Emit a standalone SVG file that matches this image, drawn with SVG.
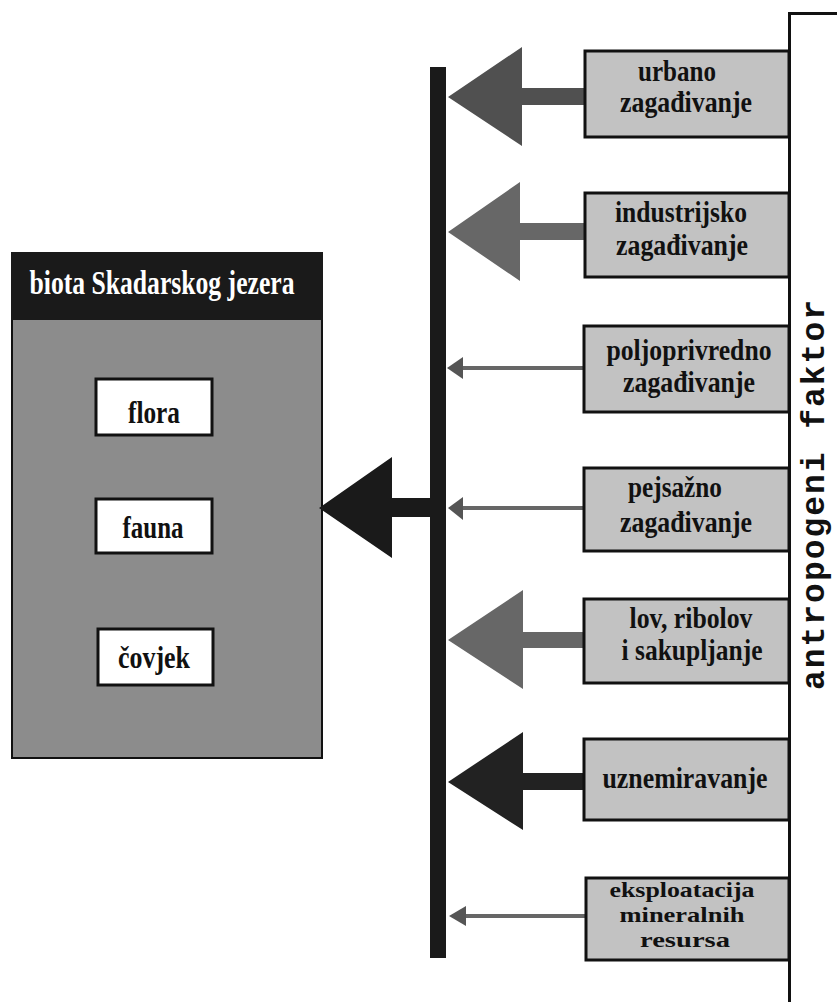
<svg xmlns="http://www.w3.org/2000/svg" width="837" height="1002" viewBox="0 0 837 1002">
<style>
.t{font-family:"Liberation Serif","Times New Roman",serif;font-weight:bold;fill:#111;text-anchor:middle}
.box{fill:#c2c2c2;stroke:#111;stroke-width:3}
.wbox{fill:#fff;stroke:#111;stroke-width:3}
.side{font-family:"Liberation Mono","Courier New",monospace;font-weight:bold;fill:#111;text-anchor:middle}
</style>
<rect width="837" height="1002" fill="#fff"/>
<g id="panel">
<path d="M789.5 1002 V13.5 H837" fill="none" stroke="#111" stroke-width="3"/>
<text class="side" font-size="33" transform="translate(824,495) rotate(-90)" textLength="390" lengthAdjust="spacing">antropogeni faktor</text>
</g>
<g id="biota">
<rect x="12" y="253" width="310" height="505" fill="#8c8c8c" stroke="#111" stroke-width="2"/>
<rect x="11" y="252" width="312" height="68" fill="#1a1a1a"/>
<text x="162" y="294" font-size="33" class="t" style="fill:#fff" textLength="265" lengthAdjust="spacingAndGlyphs">biota Skadarskog jezera</text>
</g>
<g id="flora">
<rect x="96" y="379" width="116" height="56" class="wbox"/>
<text x="154" y="423" font-size="32" class="t" textLength="52" lengthAdjust="spacingAndGlyphs">flora</text>
</g>
<g id="fauna">
<rect x="96" y="499" width="116" height="54" class="wbox"/>
<text x="153" y="538" font-size="32" class="t" textLength="61" lengthAdjust="spacingAndGlyphs">fauna</text>
</g>
<g id="covjek">
<rect x="98" y="629" width="115" height="56" class="wbox"/>
<text x="154" y="668" font-size="32" class="t" textLength="72" lengthAdjust="spacingAndGlyphs">čovjek</text>
</g>
<g id="connectors">
<rect x="430" y="67" width="16" height="891" fill="#1a1a1a"/>
<path d="M319 508 L392 457 L392 498 L430 498 L430 517 L392 517 L392 558 Z" fill="#1a1a1a"/>
<path d="M448 97 L522 47 L522 88 L584 88 L584 105 L522 105 L522 146 Z" fill="#505050"/>
<path d="M448 232 L520 182 L520 223 L584 223 L584 240 L520 240 L520 281 Z" fill="#676767"/>
<rect x="460" y="366" width="124" height="4" fill="#666"/>
<path d="M447 368 L463 357 L463 379 Z" fill="#555"/>
<rect x="460" y="506" width="124" height="4" fill="#666"/>
<path d="M448 508 L463 497 L463 520 Z" fill="#555"/>
<path d="M448 640 L523 590 L523 632 L584 632 L584 648 L523 648 L523 689 Z" fill="#676767"/>
<path d="M448 782 L523 732 L523 773 L584 773 L584 790 L523 790 L523 830 Z" fill="#222"/>
<rect x="462" y="914" width="124" height="4" fill="#666"/>
<path d="M449 916 L466 906 L466 926 Z" fill="#555"/>
</g>
<g id="urbano">
<rect x="585" y="51" width="204" height="86" class="box"/>
<text x="677" y="81" font-size="30" class="t" textLength="78" lengthAdjust="spacingAndGlyphs">urbano</text>
<text x="686" y="112" font-size="30" class="t" textLength="132" lengthAdjust="spacingAndGlyphs">zagađivanje</text>
</g>
<g id="industrijsko">
<rect x="585" y="193" width="204" height="84" class="box"/>
<text x="681" y="222" font-size="30" class="t" textLength="132" lengthAdjust="spacingAndGlyphs">industrijsko</text>
<text x="682" y="255" font-size="30" class="t" textLength="132" lengthAdjust="spacingAndGlyphs">zagađivanje</text>
</g>
<g id="poljoprivredno">
<rect x="584" y="326" width="205" height="86" class="box"/>
<text x="689" y="360" font-size="30" class="t" textLength="165" lengthAdjust="spacingAndGlyphs">poljoprivredno</text>
<text x="689" y="392" font-size="30" class="t" textLength="132" lengthAdjust="spacingAndGlyphs">zagađivanje</text>
</g>
<g id="pejsazno">
<rect x="584" y="468" width="205" height="83" class="box"/>
<text x="675" y="497" font-size="30" class="t" textLength="94" lengthAdjust="spacingAndGlyphs">pejsažno</text>
<text x="686" y="532" font-size="30" class="t" textLength="132" lengthAdjust="spacingAndGlyphs">zagađivanje</text>
</g>
<g id="lov">
<rect x="584" y="599" width="205" height="84" class="box"/>
<text x="691" y="628" font-size="30" class="t" textLength="123" lengthAdjust="spacingAndGlyphs">lov, ribolov</text>
<text x="692" y="660" font-size="30" class="t" textLength="141" lengthAdjust="spacingAndGlyphs">i sakupljanje</text>
</g>
<g id="uznemiravanje">
<rect x="584" y="739" width="205" height="81" class="box"/>
<text x="685" y="788" font-size="30" class="t" textLength="165" lengthAdjust="spacingAndGlyphs">uznemiravanje</text>
</g>
<g id="eksploatacija">
<rect x="586" y="878" width="203" height="82" class="box"/>
<text x="682" y="897" font-size="22" class="t" textLength="145" lengthAdjust="spacingAndGlyphs">eksploatacija</text>
<text x="682" y="922" font-size="22" class="t" textLength="125" lengthAdjust="spacingAndGlyphs">mineralnih</text>
<text x="685" y="947" font-size="22" class="t" textLength="90" lengthAdjust="spacingAndGlyphs">resursa</text>
</g>
</svg>
